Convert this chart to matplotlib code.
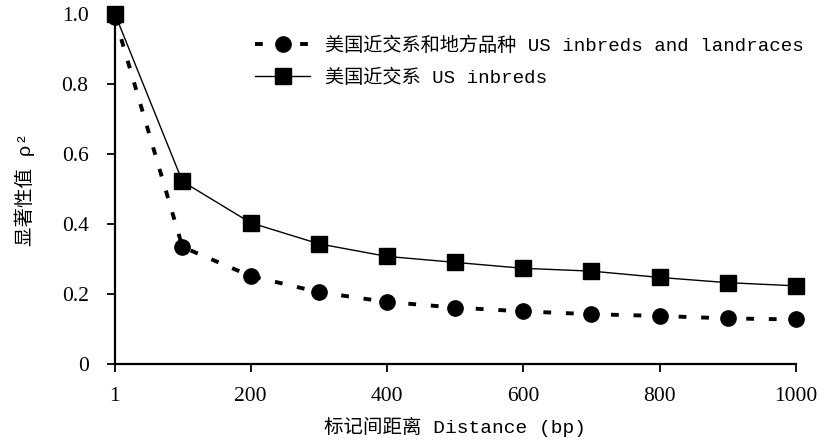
import matplotlib
matplotlib.use("Agg")
import matplotlib.pyplot as plt

# marker distance (bp) and significance values
distance = [1, 100, 200, 300, 400, 500, 600, 700, 800, 900, 1000]
rho_all = [0.99, 0.335, 0.252, 0.206, 0.178, 0.162, 0.151, 0.143, 0.138, 0.131, 0.128]
rho_inbred = [1.0, 0.522, 0.404, 0.344, 0.308, 0.291, 0.274, 0.266, 0.248, 0.233, 0.224]

label_all = "美国近交系和地方品种 US inbreds and landraces"
label_inbred = "美国近交系 US inbreds"
xticks = [1, 200, 400, 600, 800, 1000]
yticks = [0, 0.2, 0.4, 0.6, 0.8, 1.0]
yticklabels = ["0", "0.2", "0.4", "0.6", "0.8", "1.0"]

mixed = ["Liberation Mono", "Noto Sans CJK SC"]

fig = plt.figure(figsize=(8.21, 4.44), dpi=100)
ax = fig.add_axes([0.140, 0.1795, 0.8295, 0.789])

ax.plot(distance, rho_all, color="black", linestyle=(0, (2.0, 3.8)), linewidth=2.8,
        marker="o", markersize=11, label=label_all, clip_on=False, zorder=3)
ax.plot(distance, rho_inbred, color="black", linestyle="-", linewidth=1.0,
        marker="s", markersize=12, label=label_inbred, clip_on=False, zorder=4)

ax.set_xlim(1, 1000)
ax.set_ylim(0, 1.0)
ax.set_xticks(xticks)
ax.set_xticklabels([str(t) for t in xticks], family="Liberation Serif", fontsize=15.5)
ax.set_yticks(yticks)
ax.set_yticklabels(yticklabels, family="Liberation Serif", fontsize=15.5)
ax.tick_params(direction="out", length=6, width=1.3)
ax.tick_params(axis="y", pad=13)
ax.tick_params(axis="x", pad=10)

for side in ["top", "right"]:
    ax.spines[side].set_visible(False)
for side in ["left", "bottom"]:
    ax.spines[side].set_linewidth(1.6)

ax.set_xlabel("标记间距离 Distance (bp)", family=mixed, fontsize=14, labelpad=8)
ax.set_ylabel("显著性值 ρ²", family=mixed, fontsize=14, labelpad=19)

leg = ax.legend(loc="upper left", bbox_to_anchor=(0.18, 0.985), frameon=False,
                prop={"family": mixed, "size": 13.8}, handlelength=2.9,
                handletextpad=0.75, labelspacing=0.7)

fig.savefig("out.png", dpi=100)
